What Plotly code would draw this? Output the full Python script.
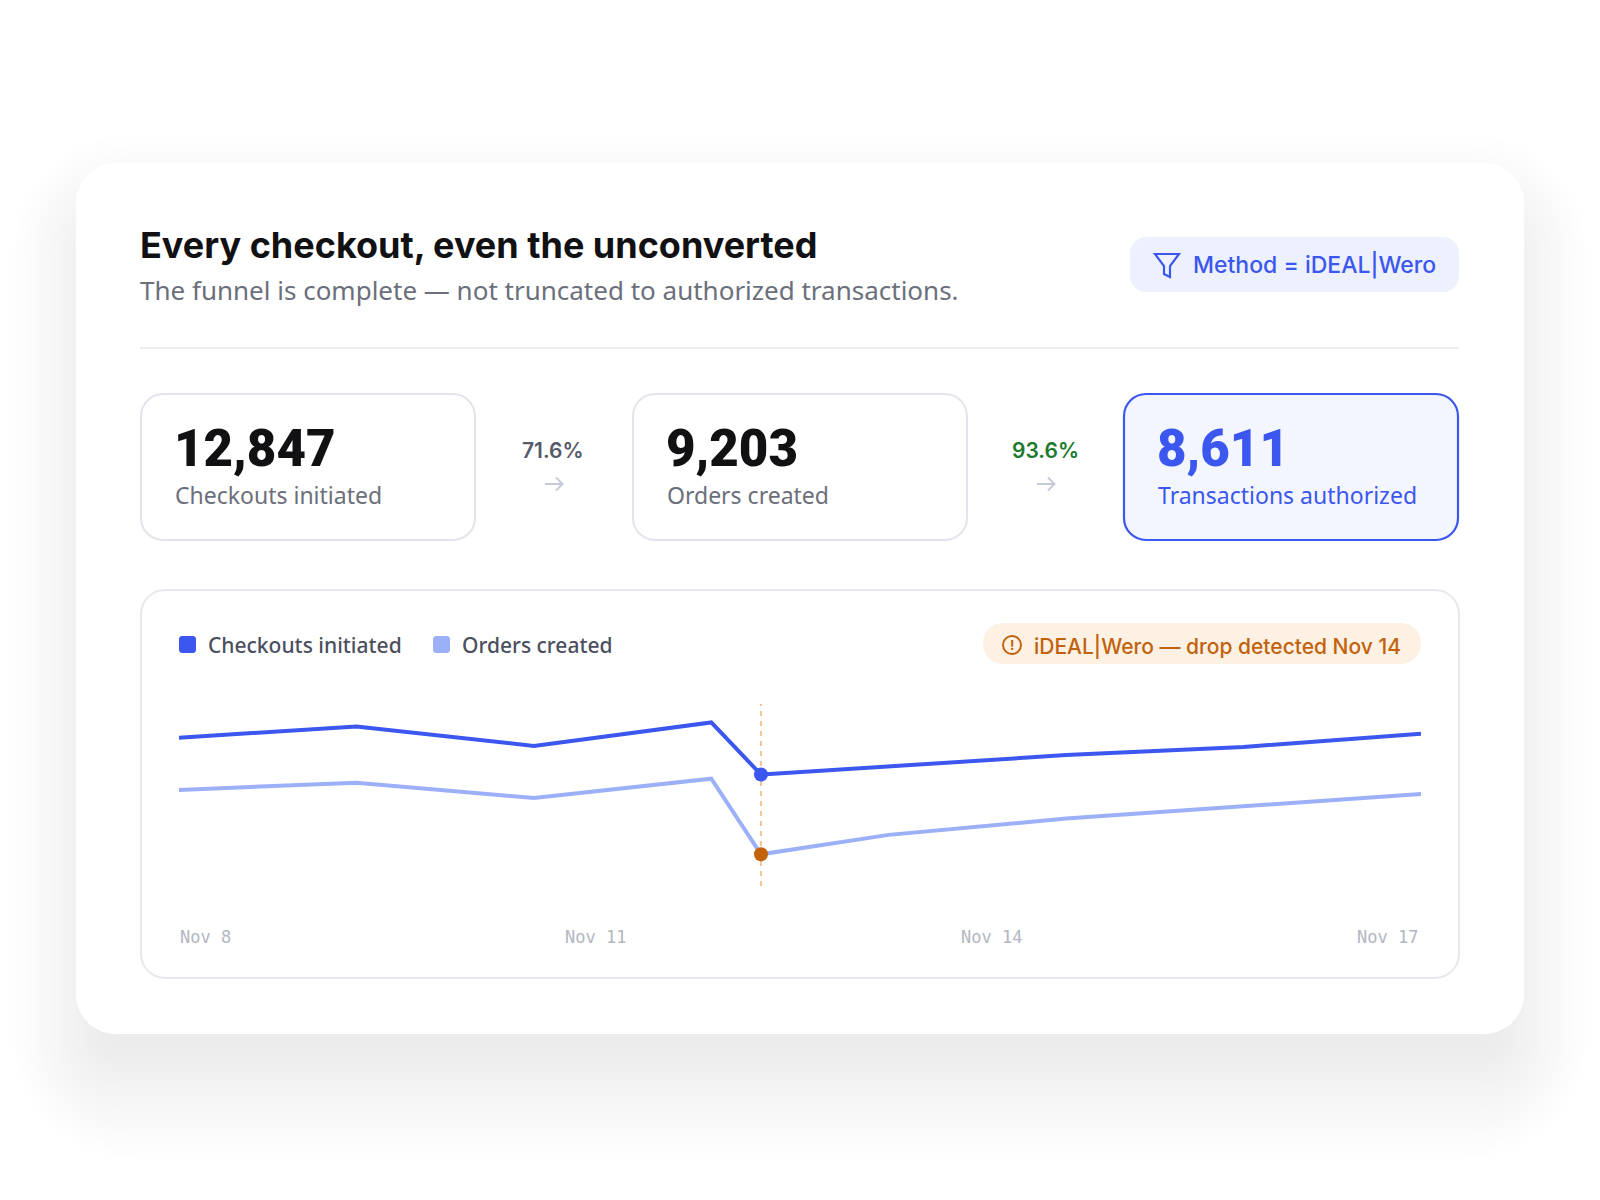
import plotly.graph_objects as go

W, H = 1600, 1200
OFFSET = 8  # the page body margin shifts the figure, compensate

# Funnel figures
kpi_values = ["12,847", "9,203", "8,611"]
kpi_labels = ["Checkouts initiated", "Orders created", "Transactions authorized"]
step_rates = ["71.6%", "93.6%"]

# Daily series (relative level)
x_pos = [0, 1, 2, 3, 3.28, 4, 5, 6, 7]
checkouts = [177, 188, 169, 192, 141, 149, 160, 168, 181]
orders = [126, 133, 118, 137, 63, 82, 98, 110, 122]
drop_idx = 4
tick_pos = [0.15, 2.35, 4.58, 6.81]
tick_text = ["Nov 8", "Nov 11", "Nov 14", "Nov 17"]

BLUE = "#3b57ef"
LIGHT_BLUE = "#9bb0f6"
ORANGE = "#c2620c"
GREY_TEXT = "#6b6f7b"
BORDER = "#e3e5ec"


def px(x):
    return (x - OFFSET) / W


def py(y):
    return 1 - (y - OFFSET) / H


def rounded_path(x0, y0, x1, y1, r):
    """Rounded rectangle in pixel coords -> SVG path in paper coords"""
    k = 0.5523 * r

    def p(x, y):
        return f"{px(x):.5f},{py(y):.5f}"

    return (
        f"M {p(x0 + r, y0)} L {p(x1 - r, y0)} "
        f"C {p(x1 - r + k, y0)} {p(x1, y0 + r - k)} {p(x1, y0 + r)} "
        f"L {p(x1, y1 - r)} "
        f"C {p(x1, y1 - r + k)} {p(x1 - r + k, y1)} {p(x1 - r, y1)} "
        f"L {p(x0 + r, y1)} "
        f"C {p(x0 + r - k, y1)} {p(x0, y1 - r + k)} {p(x0, y1 - r)} "
        f"L {p(x0, y0 + r)} "
        f"C {p(x0, y0 + r - k)} {p(x0 + r - k, y0)} {p(x0 + r, y0)} Z"
    )


def box(x0, y0, x1, y1, r, fill="white", line=None, width=0):
    return dict(
        type="path", xref="paper", yref="paper", layer="below",
        path=rounded_path(x0, y0, x1, y1, r),
        fillcolor=fill,
        line=dict(color=line or fill, width=width),
    )


def stroke(points, color, width, closed=False):
    path = "M " + " L ".join(f"{px(a):.5f},{py(b):.5f}" for a, b in points)
    return dict(type="path", xref="paper", yref="paper", path=path + (" Z" if closed else ""),
                line=dict(color=color, width=width), fillcolor="rgba(0,0,0,0)")


def text(x, y, s, size, color, family="Inter", weight=400, anchor="left"):
    return dict(
        x=px(x), y=py(y), xref="paper", yref="paper", text=s,
        showarrow=False, xanchor=anchor, yanchor="middle",
        font=dict(size=size, color=color, family=family, weight=weight),
    )


shapes = []
# soft card shadow: stacked translucent layers, pushed downwards
for e in range(-30, 84, 6):
    shapes.append(box(76 - 0.8 * e, 163 + 50 - e, 1524 + 0.8 * e, 1034 + 45 + e,
                      max(40 + e, 8), fill="rgba(45,50,65,0.0058)"))
shapes.append(box(76, 163, 1524, 1034, 40, fill="white"))

# header
shapes.append(dict(type="line", xref="paper", yref="paper", layer="below",
                   x0=px(140), x1=px(1459), y0=py(348), y1=py(348),
                   line=dict(color="#e8e9ee", width=1.5)))
shapes.append(box(1130, 237, 1459, 292, 16, fill="#edf1fe"))
funnel = [(1155, 254), (1179, 254), (1170, 266), (1170, 277), (1164, 274), (1164, 266)]
shapes.append(stroke(funnel, BLUE, 2.2, closed=True))

# KPI boxes
kpi_x = [141, 633, 1124]
kpi_w = 334
for i, x0 in enumerate(kpi_x):
    if i == 2:
        shapes.append(box(x0, 394, x0 + kpi_w, 540, 22, fill="#f3f6fe", line=BLUE, width=2.2))
    else:
        shapes.append(box(x0, 394, x0 + kpi_w, 540, 22, fill="white", line=BORDER, width=2))

# step arrows
for cx in [554, 1046]:
    shapes.append(stroke([(cx - 9, 484), (cx + 8, 484)], "#c6cad8", 2))
    shapes.append(stroke([(cx + 2, 477.5), (cx + 8.5, 484), (cx + 2, 490.5)], "#c6cad8", 2))

# chart panel
shapes.append(box(141, 590, 1459, 978, 24, fill="white", line="#e8e9ee", width=2))
shapes.append(box(179, 636, 196, 653, 3, fill=BLUE))
shapes.append(box(433, 636, 450, 653, 3, fill=LIGHT_BLUE))
shapes.append(box(983, 623, 1421, 664, 20, fill="#fdf1e3"))
shapes.append(dict(type="circle", xref="paper", yref="paper",
                   x0=px(1003), x1=px(1021), y0=py(636), y1=py(654),
                   line=dict(color=ORANGE, width=2)))

# drop marker line
shapes.append(dict(type="line", xref="x", yref="y domain", layer="below",
                   x0=x_pos[drop_idx], x1=x_pos[drop_idx], y0=0, y1=1,
                   line=dict(color="#f5c695", width=2, dash="5px,5px")))

annotations = [
    text(138, 245, "Every checkout, even the unconverted", 36, "#111114", weight=700),
    text(138, 290, "The funnel is complete — not truncated to authorized transactions.",
         26, GREY_TEXT, family="Noto Sans"),
    text(1191, 265, "Method = iDEAL|Wero", 23, BLUE, weight=500),
]
for i, x0 in enumerate(kpi_x):
    num_color = BLUE if i == 2 else "#111114"
    lab_color = BLUE if i == 2 else GREY_TEXT
    annotations.append(text(x0 + 31, 449, kpi_values[i], 51, num_color, family="Roboto", weight=900))
    annotations.append(text(x0 + 32, 495, kpi_labels[i], 23, lab_color, family="Noto Sans"))
rate_colors = ["#555a6a", "#1c7a2c"]
for i, cx in enumerate([553, 1045]):
    annotations.append(text(cx, 450, step_rates[i], 21, rate_colors[i], weight=600, anchor="center"))

annotations += [
    text(206, 645, "Checkouts initiated", 21, "#4b4f5e", family="Noto Sans", weight=500),
    text(460, 645, "Orders created", 21, "#4b4f5e", family="Noto Sans", weight=500),
    text(1012, 645, "!", 13, ORANGE, weight=700, anchor="center"),
    text(1032, 646, "iDEAL|Wero — drop detected Nov 14", 21, ORANGE, weight=500),
]
for tv, tt in zip(tick_pos, tick_text):
    annotations.append(dict(
        x=tv, y=py(937), xref="x", yref="paper", text=tt, showarrow=False,
        xanchor="center", yanchor="middle",
        font=dict(size=17, color="#b3b6c1", family="DejaVu Sans Mono"),
    ))

fig = go.Figure()
fig.add_trace(go.Scatter(x=x_pos, y=checkouts, mode="lines", name="Checkouts initiated",
                         line=dict(color=BLUE, width=4), hoverinfo="skip"))
fig.add_trace(go.Scatter(x=x_pos, y=orders, mode="lines", name="Orders created",
                         line=dict(color=LIGHT_BLUE, width=4), hoverinfo="skip"))
fig.add_trace(go.Scatter(
    x=[x_pos[drop_idx], x_pos[drop_idx]], y=[checkouts[drop_idx], orders[drop_idx]],
    mode="markers", marker=dict(size=14, color=[BLUE, ORANGE], line=dict(width=0)),
    cliponaxis=False, hoverinfo="skip",
))

fig.update_layout(
    width=W, height=H,
    margin=dict(l=0, r=0, t=0, b=0),
    paper_bgcolor="white",
    plot_bgcolor="rgba(0,0,0,0)",
    showlegend=False,
    shapes=shapes,
    annotations=annotations,
    xaxis=dict(domain=[px(179), px(1421)], range=[0, 7], visible=False, fixedrange=True),
    yaxis=dict(domain=[py(886), py(704)], range=[32, 210], visible=False, fixedrange=True),
)

fig.write_html("out.html")
